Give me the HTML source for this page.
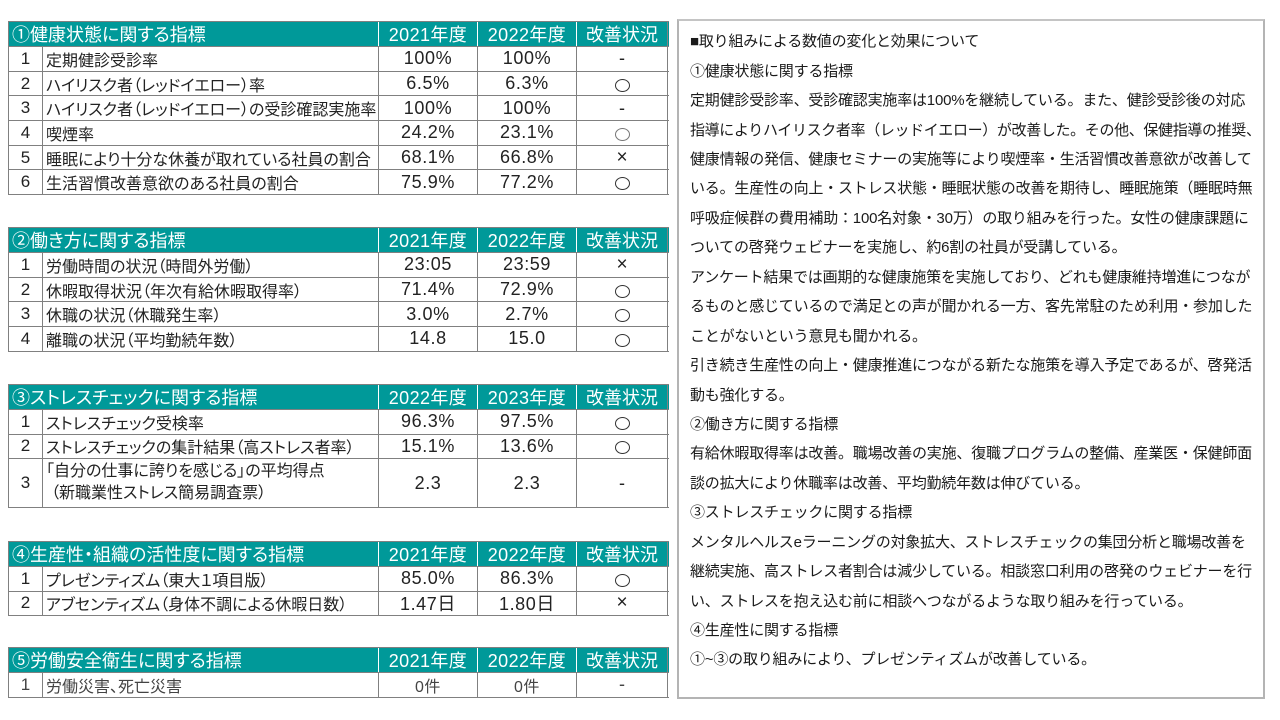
<!DOCTYPE html>
<html><head><meta charset="utf-8">
<style>
html,body{margin:0;padding:0;background:#fff;}
body{width:1280px;height:720px;position:relative;overflow:hidden;font-family:"Liberation Sans","Noto Sans CJK JP",sans-serif;color:#222;}
.tb{position:absolute;left:8px;width:660px;border-top:1px solid #808080;border-left:1px solid #808080;box-sizing:content-box;font-feature-settings:"palt";}
.row{display:flex;box-sizing:border-box;border-bottom:1px solid #808080;}
.row>div{box-sizing:border-box;border-right:1px solid #808080;display:flex;align-items:center;white-space:nowrap;overflow:hidden;}
.h{background:#009999;color:#fff;font-size:18px;height:25px;}
.h>div{border-right:1px solid #fff !important;justify-content:center;}
.h>div:last-child{border-right:1px solid #808080 !important;}
.h .hl{width:370px;justify-content:flex-start;padding-left:3px;}
.n{width:34px;justify-content:center;font-size:17px;}
.l{width:336px;padding-left:3px;font-size:16px;}
.v{width:99px;justify-content:center;font-size:18px;letter-spacing:0.6px;}
.s{width:91px;justify-content:center;font-size:18px;}
.h .v{letter-spacing:0.4px;}
.r{height:24.7px;}
.c{display:inline-block;width:13px;height:11px;border:1.4px solid #333;border-radius:50%;margin-top:3px;}
.x{font-size:19px;}
.panel{position:absolute;left:677px;top:19px;width:588px;height:680px;box-sizing:border-box;border:2px solid #b4b4b4;border-top-color:#c4c4c4;}
.txt{position:absolute;left:690px;top:27.3px;font-size:15px;line-height:29.43px;color:#1a1a1a;white-space:nowrap;letter-spacing:-0.2px;font-family:"Liberation Sans","Noto Sans CJK JP",sans-serif;}
</style></head>
<body>

<div class="tb" style="top:21px">
  <div class="row h"><div class="hl">①健康状態に関する指標</div><div class="v">2021年度</div><div class="v">2022年度</div><div class="s">改善状況</div></div>
  <div class="row r"><div class="n">1</div><div class="l">定期健診受診率</div><div class="v">100%</div><div class="v">100%</div><div class="s">-</div></div>
  <div class="row r"><div class="n">2</div><div class="l">ハイリスク者（レッドイエロー）率</div><div class="v">6.5%</div><div class="v">6.3%</div><div class="s"><span class="c"></span></div></div>
  <div class="row r"><div class="n">3</div><div class="l">ハイリスク者（レッドイエロー）の受診確認実施率</div><div class="v">100%</div><div class="v">100%</div><div class="s">-</div></div>
  <div class="row r"><div class="n">4</div><div class="l">喫煙率</div><div class="v">24.2%</div><div class="v">23.1%</div><div class="s"><span class="c" style="border-color:#777"></span></div></div>
  <div class="row r"><div class="n">5</div><div class="l">睡眠により十分な休養が取れている社員の割合</div><div class="v">68.1%</div><div class="v">66.8%</div><div class="s x">×</div></div>
  <div class="row r"><div class="n">6</div><div class="l">生活習慣改善意欲のある社員の割合</div><div class="v">75.9%</div><div class="v">77.2%</div><div class="s"><span class="c"></span></div></div>
</div>

<div class="tb" style="top:227px">
  <div class="row h"><div class="hl">②働き方に関する指標</div><div class="v">2021年度</div><div class="v">2022年度</div><div class="s">改善状況</div></div>
  <div class="row r"><div class="n">1</div><div class="l">労働時間の状況（時間外労働）</div><div class="v">23:05</div><div class="v">23:59</div><div class="s x">×</div></div>
  <div class="row r"><div class="n">2</div><div class="l">休暇取得状況（年次有給休暇取得率）</div><div class="v">71.4%</div><div class="v">72.9%</div><div class="s"><span class="c"></span></div></div>
  <div class="row r"><div class="n">3</div><div class="l">休職の状況（休職発生率）</div><div class="v">3.0%</div><div class="v">2.7%</div><div class="s"><span class="c"></span></div></div>
  <div class="row r"><div class="n">4</div><div class="l">離職の状況（平均勤続年数）</div><div class="v">14.8</div><div class="v">15.0</div><div class="s"><span class="c"></span></div></div>
</div>

<div class="tb" style="top:384px">
  <div class="row h"><div class="hl">③ストレスチェックに関する指標</div><div class="v">2022年度</div><div class="v">2023年度</div><div class="s">改善状況</div></div>
  <div class="row" style="height:24.5px"><div class="n">1</div><div class="l">ストレスチェック受検率</div><div class="v">96.3%</div><div class="v">97.5%</div><div class="s"><span class="c"></span></div></div>
  <div class="row" style="height:24.5px"><div class="n">2</div><div class="l">ストレスチェックの集計結果（高ストレス者率）</div><div class="v">15.1%</div><div class="v">13.6%</div><div class="s"><span class="c"></span></div></div>
  <div class="row" style="height:49px"><div class="n">3</div><div class="l" style="display:block;line-height:22px;padding-top:2px;">「自分の仕事に誇りを感じる」の平均得点<br><span style="padding-left:5px">（新職業性ストレス簡易調査票）</span></div><div class="v">2.3</div><div class="v">2.3</div><div class="s">-</div></div>
</div>

<div class="tb" style="top:541px">
  <div class="row h"><div class="hl">④生産性・組織の活性度に関する指標</div><div class="v">2021年度</div><div class="v">2022年度</div><div class="s">改善状況</div></div>
  <div class="row" style="height:24.5px"><div class="n">1</div><div class="l">プレゼンティズム（東大１項目版）</div><div class="v">85.0%</div><div class="v">86.3%</div><div class="s"><span class="c"></span></div></div>
  <div class="row" style="height:24.5px"><div class="n">2</div><div class="l">アブセンティズム（身体不調による休暇日数）</div><div class="v">1.47日</div><div class="v">1.80日</div><div class="s x">×</div></div>
</div>

<div class="tb" style="top:647px">
  <div class="row h"><div class="hl">⑤労働安全衛生に関する指標</div><div class="v">2021年度</div><div class="v">2022年度</div><div class="s">改善状況</div></div>
  <div class="row" style="height:24.5px;color:#444"><div class="n">1</div><div class="l">労働災害、死亡災害</div><div class="v" style="font-size:16px">0件</div><div class="v" style="font-size:16px">0件</div><div class="s">-</div></div>
</div>

<div class="panel"></div>
<div class="txt">
<div>■取り組みによる数値の変化と効果について</div>
<div>①健康状態に関する指標</div>
<div>定期健診受診率、受診確認実施率は100%を継続している。また、健診受診後の対応</div>
<div style="letter-spacing:-0.35px">指導によりハイリスク者率（レッドイエロー）が改善した。その他、保健指導の推奨、</div>
<div>健康情報の発信、健康セミナーの実施等により喫煙率・生活習慣改善意欲が改善して</div>
<div>いる。生産性の向上・ストレス状態・睡眠状態の改善を期待し、睡眠施策（睡眠時無</div>
<div>呼吸症候群の費用補助：100名対象・30万）の取り組みを行った。女性の健康課題に</div>
<div>ついての啓発ウェビナーを実施し、約6割の社員が受講している。</div>
<div>アンケート結果では画期的な健康施策を実施しており、どれも健康維持増進につなが</div>
<div>るものと感じているので満足との声が聞かれる一方、客先常駐のため利用・参加した</div>
<div>ことがないという意見も聞かれる。</div>
<div>引き続き生産性の向上・健康推進につながる新たな施策を導入予定であるが、啓発活</div>
<div>動も強化する。</div>
<div>②働き方に関する指標</div>
<div>有給休暇取得率は改善。職場改善の実施、復職プログラムの整備、産業医・保健師面</div>
<div>談の拡大により休職率は改善、平均勤続年数は伸びている。</div>
<div>③ストレスチェックに関する指標</div>
<div>メンタルヘルスeラーニングの対象拡大、ストレスチェックの集団分析と職場改善を</div>
<div>継続実施、高ストレス者割合は減少している。相談窓口利用の啓発のウェビナーを行</div>
<div>い、ストレスを抱え込む前に相談へつながるような取り組みを行っている。</div>
<div>④生産性に関する指標</div>
<div>①~③の取り組みにより、プレゼンティズムが改善している。</div>
</div>

</body></html>
